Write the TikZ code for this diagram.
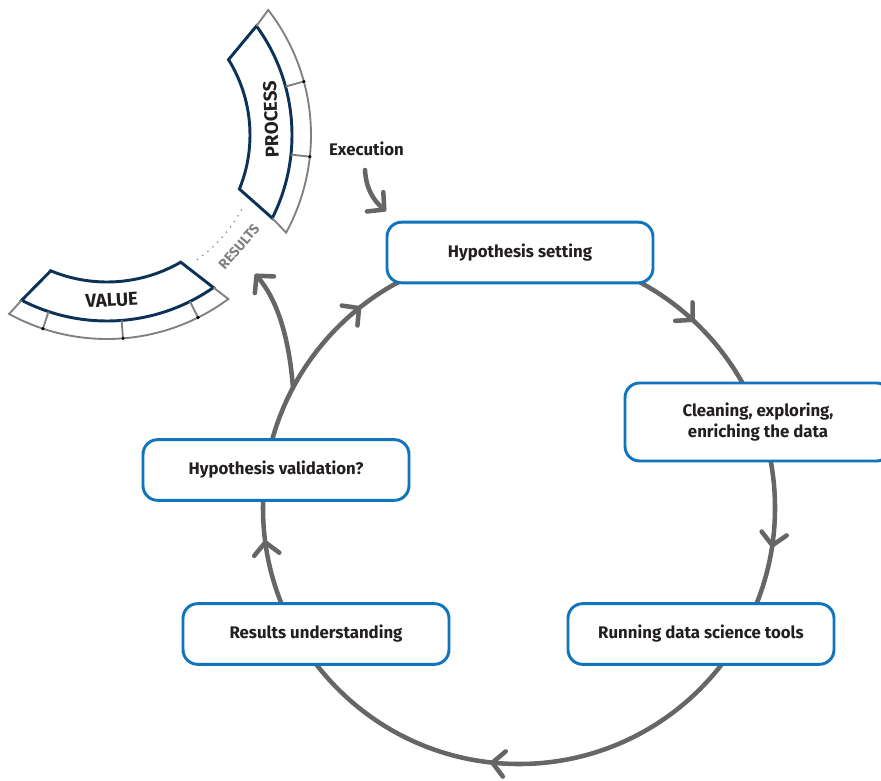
\documentclass[tikz,border=0pt]{standalone}
\usepackage{fontspec}
\setmainfont{Fira Sans}
\usetikzlibrary{arrows.meta,calc,decorations.markings}
\definecolor{boxblue}{RGB}{16,117,186}
\definecolor{navy}{RGB}{12,50,88}
\definecolor{rimgray}{RGB}{128,128,128}
\definecolor{flowgray}{RGB}{102,102,102}
\definecolor{ink}{RGB}{35,31,32}

\begin{document}
\begin{tikzpicture}[x=0.75pt,y=0.75pt,
  chev/.tip={Straight Barb[length=9pt,width=19pt,round]},
  stepbox/.style={draw=boxblue,line width=2.2pt,rounded corners=11pt,fill=white,
    minimum width=199.5pt,minimum height=45.5pt,text=ink,align=center,
    font=\bfseries\fontsize{12.6}{15.5}\selectfont},
  flow/.style={draw=flowgray,line width=3.4pt,line cap=round},
  band/.style={draw=navy,line width=2.2pt,line join=miter},
  rim/.style={draw=rimgray,line width=1.4pt},
  tickdot/.style={fill=black},
  bandlabel/.style={text=ink,font=\bfseries\fontsize{14}{16}\selectfont},
  cyclemarks/.style={postaction={decorate},decoration={markings,
    mark=at position 0.12 with {\arrow{chev}},
    mark=at position 0.2747 with {\arrow{chev}},
    mark=at position 0.518 with {\arrow{chev}},
    mark=at position 0.73 with {\arrow{chev}},
    mark=at position 0.894 with {\arrow{chev}}}}
]
\useasboundingbox (0,0) rectangle (881,-781);

% ---- the work cycle, drawn clockwise from the top ----
\coordinate (O) at (519,-508);
\draw[flow,cyclemarks] ($(O)+(90:256)$) arc[start angle=90,end angle=-270,radius=256];

% ---- the steps of the cycle ----
\node[stepbox] (hs) at (520,-252.5) {Hypothesis setting};
\node[stepbox,minimum height=58.5pt] (ce) at (758,-422) {Cleaning, exploring,\\enriching the data};
\node[stepbox] (rd) at (701,-634) {Running data science tools};
\node[stepbox] (ru) at (316,-634) {Results understanding};
\node[stepbox] (hv) at (276,-470) {Hypothesis validation?};

% ---- process / value ring ----
\coordinate (R) at (107,-135);

% PROCESS band
\draw[band] ($(R)+(31.8:143)$) arc[start angle=31.8,end angle=-22.2,radius=143]
  -- ($(R)+(-26.7:185)$) arc[start angle=-26.7,end angle=36.1,radius=185] -- cycle;
\draw[rim] ($(R)+(36.1:185)$) -- ($(R)+(37.8:204)$)
  arc[start angle=37.8,end angle=-28.6,radius=204] -- ($(R)+(-26.7:185)$);
\foreach \a in {15.2,-6.1}{
  \draw[rim] ($(R)+(\a:185)$) -- ($(R)+(\a:204)$);
  \fill[tickdot] ($(R)+(\a:204)$) circle[radius=1.8];
}
\node[bandlabel,rotate=92] (proc) at (271,-119) {PROCESS};

% VALUE band
\draw[band] ($(R)+(247.5:147)$) arc[start angle=247.5,end angle=300.1,radius=147]
  -- ($(R)+(304.9:186)$) arc[start angle=304.9,end angle=242.7,radius=186] -- cycle;
\draw[rim] ($(R)+(242.7:186)$) -- ($(R)+(241.3:204)$)
  arc[start angle=241.3,end angle=306.5,radius=204] -- ($(R)+(304.9:186)$);
\foreach \a in {251.7,274.5,296.5}{
  \draw[rim] ($(R)+(\a:186)$) -- ($(R)+(\a:204)$);
  \fill[tickdot] ($(R)+(\a:204)$) circle[radius=1.8];
}
\node[bandlabel,rotate=3] (val) at (111.7,-300) {VALUE};

% RESULTS link between the bands
\draw[draw=rimgray,line width=1.3pt,line cap=round,dash pattern=on 0pt off 5pt]
  ($(R)+(-54:154)$) arc[start angle=-54,end angle=-28,radius=154];
\node[text=rimgray,font=\bfseries\fontsize{10.5}{12}\selectfont,rotate=49] (res) at (239,-246.7) {RESULTS};

% ---- execution feeds the cycle ----
\node[text=ink,font=\bfseries\fontsize{12.6}{15}\selectfont] (ex) at (366.5,-149) {Execution};
\coordinate (es) at (365,-170);
\coordinate (et) at (386,-211);
\draw[flow,-{chev}] (es) .. controls (366,-188) and (373,-200) .. (et);

% ---- validated results lead to value ----
\coordinate (vs) at (293,-388);
\coordinate (vt) at (255,-274);
\draw[flow,-{chev}] (vs) .. controls (289,-335) and (276,-298) .. (vt);
\end{tikzpicture}
\end{document}
